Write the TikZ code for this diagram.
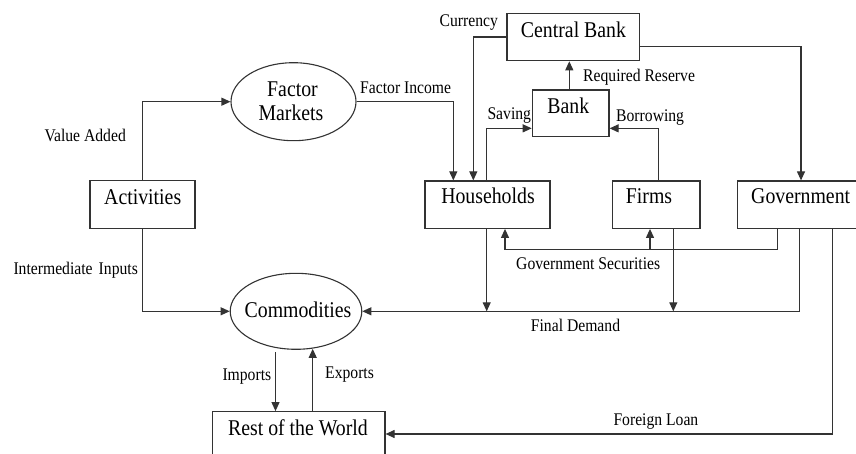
\documentclass[tikz,border=0pt]{standalone}
\usepackage{fontspec}
\setmainfont{Liberation Serif}
\newfontfamily\condserif[FakeStretch=0.88]{Liberation Serif}
\usetikzlibrary{shapes.geometric,arrows.meta,fit}

\tikzset{
  box/.style={draw=black!80, line width=1.2pt, inner sep=0pt},
  oval/.style={ellipse, draw=black!80, line width=1.1pt, inner sep=0pt},
  title/.style={inner sep=0pt, font=\condserif\fontsize{22.5}{24.3}\selectfont, text=black},
  flowlabel/.style={inner sep=0pt, anchor=base west, font=\condserif\fontsize{17.8}{20}\selectfont, text=black},
  arr/.style={draw=black!80, line width=1.1pt, -{Triangle[length=9pt,width=8pt]}}
}

\begin{document}
\begin{tikzpicture}[x=1pt,y=-1pt]
\useasboundingbox (0,0) rectangle (856,454);
\clip (0,0) rectangle (856,454);

% institutions
\node[box, fit={(507,13.3) (639.3,60.7)}] (cb) {};
\node[box, fit={(532.3,90) (609,136.7)}] (bank) {};
\node[box, fit={(425,181) (550,228.3)}] (hh) {};
\node[box, fit={(612.7,181) (700,228.3)}] (firms) {};
\node[box, fit={(737.3,181) (860,228.3)}] (gov) {};
\node[box, fit={(90,180.7) (195,228.3)}] (act) {};
\node[box, fit={(212.3,411.7) (385,456.3)}] (row) {};

% markets
\node[oval, minimum width=125pt, minimum height=78pt] (fm) at (293.5,101.7) {};
\node[oval, minimum width=131.6pt, minimum height=76pt] (com) at (296,311.3) {};

% titles
\node[title, anchor=base] (tcb) at (573.5,37.3) {Central Bank};
\node[title, anchor=base] (tbank) at (568.3,113.3) {Bank};
\node[title, anchor=base] (thh) at (488,204) {Households};
\node[title, anchor=base] (tfirms) at (649,204) {Firms};
\node[title, anchor=base west] (tgov) at (751,204) {Government};
\node[title, anchor=base] (tact) at (142.7,204.3) {Activities};
\node[title, anchor=base] (tfm1) at (292.5,96.7) {Factor};
\node[title, anchor=base] (tfm2) at (291,121) {Markets};
\node[title, anchor=base] (tcom) at (298,317.3) {Commodities};
\node[title, anchor=base] (trow) at (298,435) {Rest of the World};

% flow labels
\node[flowlabel] (lcur) at (439.5,26.7) {Currency};
\node[flowlabel] (lfi) at (360,93.3) {Factor Income};
\node[flowlabel] (lrr) at (583,81.7) {Required Reserve};
\node[flowlabel] (lsav) at (487.3,120) {Saving};
\node[flowlabel] (lbor) at (616,121.7) {Borrowing};
\node[flowlabel] (lva) at (44.3,141.7) {Value Added};
\node[flowlabel] (lii) at (13.3,274) {Intermediate\hspace{0.12em} Inputs};
\node[flowlabel] (lgs) at (516,269.3) {Government Securities};
\node[flowlabel] (lfd) at (530.7,331.7) {Final Demand};
\node[flowlabel] (lfl) at (613.3,425) {Foreign Loan};
\node[flowlabel] (lim) at (222.3,380.7) {Imports};
\node[flowlabel] (lex) at (325,378.3) {Exports};

% activities
\draw[arr] (act.north) |- (fm.west);
\draw[arr] (act.south) |- (com.west);

% factor income and currency to households
\draw[arr] (fm.east) -| ([xshift=-34.2pt]hh.north);
\draw[arr] (cb.west) -| ([xshift=-14.2pt]hh.north);

% central bank to government
\draw[arr] ([yshift=-9.7pt]cb.east) -| ([xshift=2.35pt]gov.north);

% required reserve
\coordinate (rr) at ([xshift=-1.35pt]bank.north);
\draw[arr] (rr) -- (rr |- cb.south);

% saving and borrowing
\coordinate (sv) at ([xshift=-0.8pt]hh.north);
\draw[arr] (sv) |- ([yshift=-15pt]bank.west);
\draw[arr] ([xshift=1.95pt]firms.north) |- ([yshift=-15pt]bank.east);

% government securities
\coordinate (gs) at ([xshift=-20.95pt,yshift=-21pt]gov.south);
\coordinate (gf) at ([xshift=-6.35pt]firms.south);
\draw[arr] ([xshift=-20.95pt]gov.south) -- (gs) -| ([xshift=17.5pt]hh.south);
\draw[arr] (gs -| gf) -- (gf);

% final demand
\draw[arr] ([xshift=0.65pt]gov.south) |- (com.east);
\coordinate (hd) at ([xshift=-0.8pt]hh.south);
\draw[arr] (hd) -- (hd |- com.east);
\coordinate (fd) at ([xshift=16.95pt]firms.south);
\draw[arr] (fd) -- (fd |- com.east);

% foreign loan
\draw[arr] ([xshift=34.05pt]gov.south) |- (row.east);

% trade
\coordinate (im) at ([xshift=-20.5pt,yshift=-2.4pt]com.south);
\draw[arr] (im) -- (im |- row.north);
\coordinate (ex) at ([xshift=16.7pt,yshift=1pt]com.south);
\draw[arr] (ex |- row.north) -- (ex);
\end{tikzpicture}
\end{document}
